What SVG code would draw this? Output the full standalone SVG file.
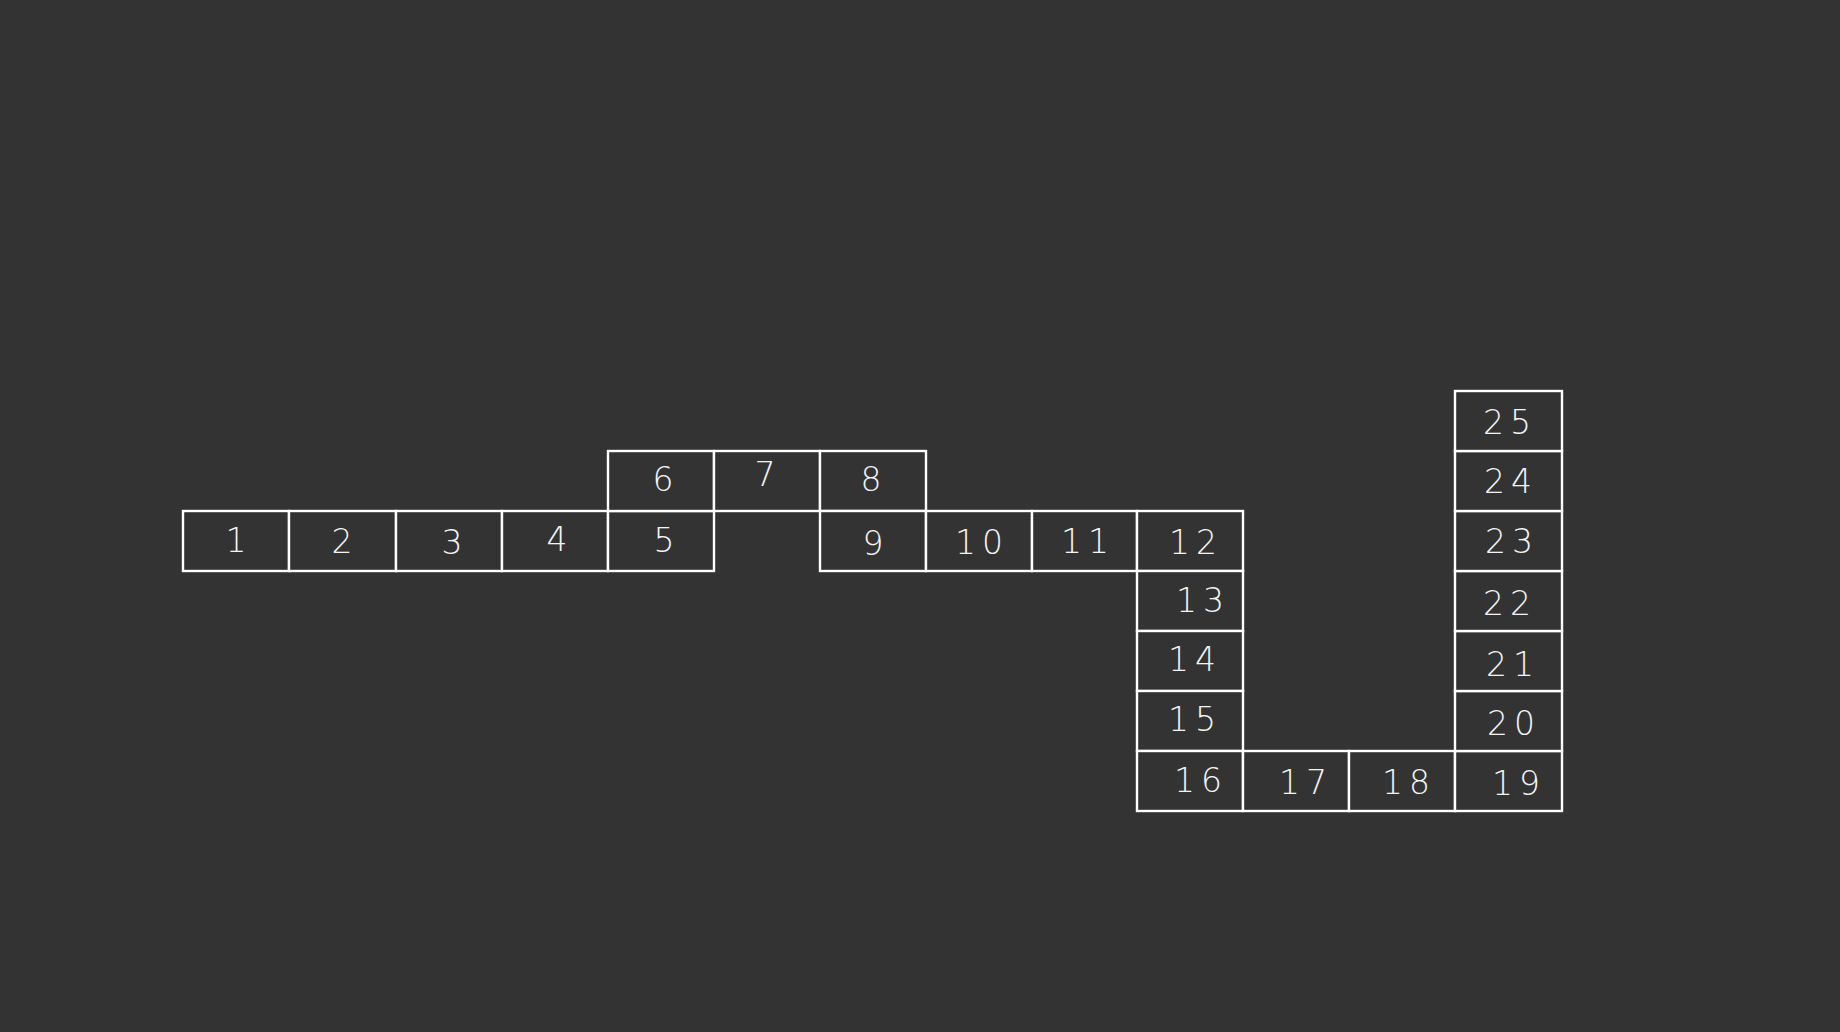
<svg xmlns="http://www.w3.org/2000/svg" width="1840" height="1032" viewBox="0 0 1840 1032">
<style>
.c{fill:#333333;stroke:#ffffff;stroke-width:2.4}
.t{fill:#f4f4f4;font-family:"DejaVu Sans","Liberation Sans",sans-serif;font-weight:300;font-size:33px;text-anchor:middle;letter-spacing:6px}
</style>
<rect width="1840" height="1032" fill="#333333"/>
<g id="connectors"></g>
<g id="n1"><rect class="c" x="183" y="511" width="106" height="60"/><text class="t" x="239" y="552">1</text></g>
<g id="n2"><rect class="c" x="289" y="511" width="107" height="60"/><text class="t" x="345" y="553">2</text></g>
<g id="n3"><rect class="c" x="396" y="511" width="106" height="60"/><text class="t" x="455" y="554">3</text></g>
<g id="n4"><rect class="c" x="502" y="511" width="106" height="60"/><text class="t" x="560" y="551">4</text></g>
<g id="n5"><rect class="c" x="608" y="511" width="106" height="60"/><text class="t" x="667" y="552">5</text></g>
<g id="n6"><rect class="c" x="608" y="451" width="106" height="60"/><text class="t" x="666" y="491">6</text></g>
<g id="n7"><rect class="c" x="714" y="451" width="106" height="60"/><text class="t" x="768" y="486">7</text></g>
<g id="n8"><rect class="c" x="820" y="451" width="106" height="60"/><text class="t" x="874" y="491">8</text></g>
<g id="n9"><rect class="c" x="820" y="511" width="106" height="60"/><text class="t" x="876" y="555">9</text></g>
<g id="n10"><rect class="c" x="926" y="511" width="106" height="60"/><text class="t" x="982" y="554">10</text></g>
<g id="n11"><rect class="c" x="1032" y="511" width="105" height="60"/><text class="t" x="1088" y="553">11</text></g>
<g id="n12"><rect class="c" x="1137" y="511" width="106" height="60"/><text class="t" x="1196" y="554">12</text></g>
<g id="n13"><rect class="c" x="1137" y="571" width="106" height="60"/><text class="t" x="1203" y="612">13</text></g>
<g id="n14"><rect class="c" x="1137" y="631" width="106" height="60"/><text class="t" x="1195" y="671">14</text></g>
<g id="n15"><rect class="c" x="1137" y="691" width="106" height="60"/><text class="t" x="1195" y="731">15</text></g>
<g id="n16"><rect class="c" x="1137" y="751" width="106" height="60"/><text class="t" x="1201" y="792">16</text></g>
<g id="n17"><rect class="c" x="1243" y="751" width="106" height="60"/><text class="t" x="1306" y="794">17</text></g>
<g id="n18"><rect class="c" x="1349" y="751" width="106" height="60"/><text class="t" x="1409" y="794">18</text></g>
<g id="n19"><rect class="c" x="1455" y="751" width="107" height="60"/><text class="t" x="1519" y="795">19</text></g>
<g id="n20"><rect class="c" x="1455" y="691" width="107" height="60"/><text class="t" x="1514" y="735">20</text></g>
<g id="n21"><rect class="c" x="1455" y="631" width="107" height="60"/><text class="t" x="1513" y="676">21</text></g>
<g id="n22"><rect class="c" x="1455" y="571" width="107" height="60"/><text class="t" x="1510" y="615">22</text></g>
<g id="n23"><rect class="c" x="1455" y="511" width="107" height="60"/><text class="t" x="1512" y="553">23</text></g>
<g id="n24"><rect class="c" x="1455" y="451" width="107" height="60"/><text class="t" x="1511" y="493">24</text></g>
<g id="n25"><rect class="c" x="1455" y="391" width="107" height="60"/><text class="t" x="1510" y="434">25</text></g>
</svg>
